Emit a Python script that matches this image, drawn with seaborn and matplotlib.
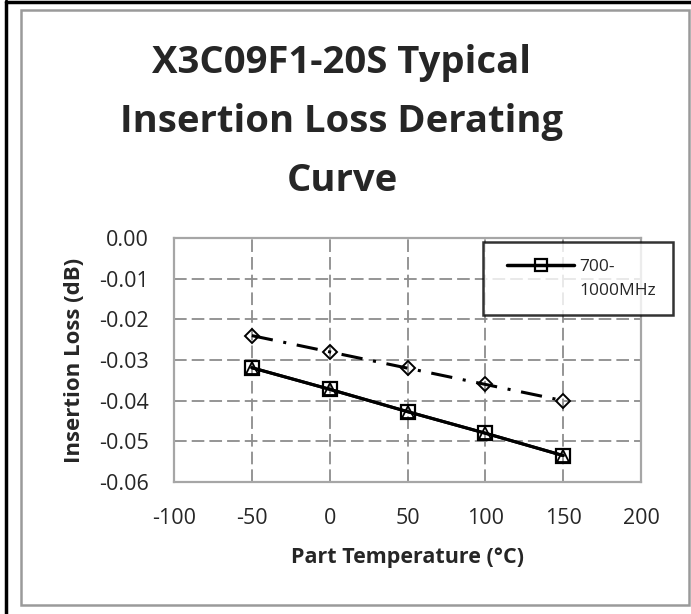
import numpy as np
import pandas as pd
import seaborn as sns
import matplotlib.pyplot as plt
from matplotlib.patches import Rectangle
from matplotlib.lines import Line2D
from matplotlib.legend_handler import HandlerLine2D

# Data
temps = [-50, 0, 50, 100, 150]
loss_700_1000 = [-0.0319, -0.0372, -0.0427, -0.0480, -0.0535]
loss_hidden = [-0.0319, -0.0372, -0.0427, -0.0480, -0.0535]
loss_upper = [-0.0240, -0.0280, -0.0320, -0.0360, -0.0400]

x_ticks = [-100, -50, 0, 50, 100, 150, 200]
y_ticks = [0.00, -0.01, -0.02, -0.03, -0.04, -0.05, -0.06]

title = "X3C09F1-20S Typical\nInsertion Loss Derating\nCurve"
x_label = "Part Temperature (\u00b0C)"
y_label = "Insertion Loss (dB)"
legend_lines = ["700-", "1000MHz"]

sns.set_style("white")
plt.rcParams['font.family'] = ['Open Sans', 'DejaVu Sans']

W, H = 691, 614
fig = plt.figure(figsize=(W / 100, H / 100), dpi=100)


def fx(px):
    return px / W


def fy(py):
    return 1 - py / H


# outer frame (black, only top/left visible) and inner gray chart border
fig.add_artist(Line2D([fx(6), fx(6)], [0, fy(1)], color='black', lw=2.5))
fig.add_artist(Line2D([fx(6), 1], [fy(2), fy(2)], color='black', lw=2.5))
fig.add_artist(Rectangle((fx(21), fy(605)), fx(689) - fx(21), fy(10) - fy(605),
                         fill=False, edgecolor='#9a9a9a', lw=1.8))

ax = fig.add_axes([fx(174), fy(482), fx(641) - fx(174), fy(238) - fy(482)])

sns.lineplot(x=temps, y=loss_hidden, ax=ax, color='black', lw=2.2,
             marker='^', markersize=9, markerfacecolor='none',
             markeredgecolor='black', markeredgewidth=1.3, legend=False)
sns.lineplot(x=temps, y=loss_700_1000, ax=ax, color='black', lw=2.2,
             marker='s', markersize=10.5, markerfacecolor='none',
             markeredgecolor='black', markeredgewidth=1.6, legend=False)
sns.lineplot(x=temps, y=loss_upper, ax=ax, color='black', lw=2.2,
             marker='D', markersize=7.5, markerfacecolor='none',
             markeredgecolor='black', markeredgewidth=1.4, legend=False)
ax.lines[-1].set_dashes([7, 3.5, 1, 3.5])

ax.set_xlim(-100, 200)
ax.set_ylim(-0.06, 0.0)
ax.set_xticks(x_ticks)
ax.set_yticks(y_ticks)
ax.set_xticklabels([str(t) for t in x_ticks])
ax.set_yticklabels([f"{t:.2f}" for t in y_ticks])
ax.tick_params(axis='both', labelsize=15.5, length=0)
ax.tick_params(axis='x', pad=19)
ax.tick_params(axis='y', pad=18)

ax.grid(True, color='#8c8c8c', lw=1.3, ls=(0, (7, 2.8)))
for s in ax.spines.values():
    s.set_color('#a6a6a6')
    s.set_linewidth(1.6)

ax.set_xlabel(x_label, fontsize=15.5, fontweight='bold')
ax.set_ylabel(y_label, fontsize=16, fontweight='bold')
ax.xaxis.set_label_coords(0.5, -0.265)
ax.yaxis.set_label_coords(-0.19, 0.5)

fig.text(fx(342), fy(122), title, ha='center', va='center', fontsize=27.5,
         fontweight='bold', linespacing=1.72)

# legend: the label wraps, the marker sits on the first line
handle = Line2D([], [], color='black', lw=2.5, marker='s', markersize=8,
                markerfacecolor='none', markeredgewidth=1.6)
blank = Line2D([], [], color='none')
leg = fig.legend([handle, blank], legend_lines, loc='upper left',
                 bbox_to_anchor=(fx(483), fy(242)), frameon=True,
                 fancybox=False, fontsize=12.5, handlelength=4.3,
                 borderpad=0.95, borderaxespad=0, handletextpad=0.3,
                 labelspacing=0.45,
                 handler_map={handle: HandlerLine2D(xpad=0.45)})
leg.get_frame().set_edgecolor('black')
leg.get_frame().set_linewidth(1.8)

fig.savefig("out.png", dpi=100)
